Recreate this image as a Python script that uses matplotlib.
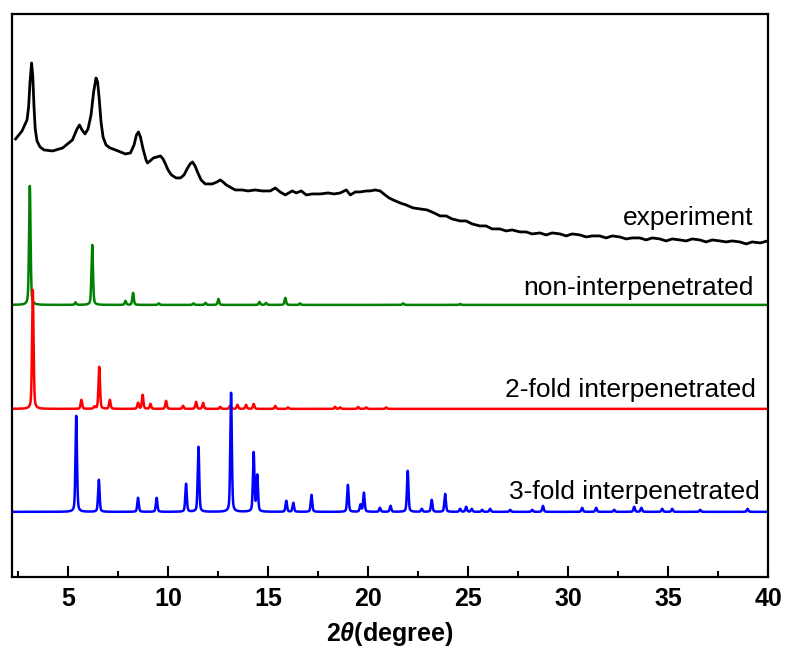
import numpy as np
import matplotlib
matplotlib.use('Agg')
import matplotlib.pyplot as plt

plt.rcParams['font.family'] = ['Liberation Sans', 'DejaVu Sans']
plt.rcParams['mathtext.fontset'] = 'custom'
plt.rcParams['mathtext.it'] = 'Liberation Sans:italic:bold'
plt.rcParams['mathtext.rm'] = 'Liberation Sans:bold'

# experimental pattern (2theta, intensity a.u.)
exp_x = [2.38, 2.7, 2.95, 3.03, 3.1, 3.18, 3.24, 3.3, 3.36, 3.45, 3.6, 3.8, 4.23,
         4.73, 5.22, 5.45, 5.57, 5.7, 5.85, 6.0, 6.15, 6.28, 6.4, 6.48, 6.56, 6.65,
         6.75, 6.9, 7.1, 7.37, 7.87, 8.12, 8.3, 8.42, 8.52, 8.62, 8.75, 8.9, 8.97,
         9.1, 9.27, 9.45, 9.62, 9.75, 9.87, 10.0, 10.17, 10.4, 10.62, 10.8, 10.95,
         11.1, 11.22, 11.35, 11.47, 11.65, 11.86, 12.21, 12.45, 12.61, 12.75,
         12.91, 13.36, 13.7, 14.0, 14.36, 14.7, 15.11, 15.36, 15.6, 15.86, 16.21,
         16.41, 16.66, 16.91, 17.2, 17.61, 18.0, 18.3, 18.61, 18.91, 19.11, 19.36,
         19.6, 19.91, 20.1, 20.35, 20.6, 20.85, 21.05, 21.25, 21.6, 21.9, 22.25,
         22.6, 22.95, 23.3, 23.6, 23.9, 24.2, 24.6, 24.9, 25.2, 25.59, 25.9, 26.2,
         26.59, 26.9, 27.2, 27.59, 27.9, 28.2, 28.59, 28.9, 29.2, 29.59, 29.9, 30.2,
         30.59, 30.9, 31.2, 31.58, 31.9, 32.2, 32.58, 32.9, 33.2, 33.58, 33.9, 34.2,
         34.58, 34.9, 35.2, 35.58, 35.9, 36.2, 36.58, 36.9, 37.2, 37.58, 37.9, 38.2,
         38.58, 38.9, 39.2, 39.6, 39.97]
exp_y = [438, 446, 457, 470, 495, 514, 500, 470, 448, 436, 430, 427, 426,
         429, 437, 448, 452, 447, 443, 448, 462, 485, 499, 495, 478, 455,
         440, 432, 429, 427, 423, 424, 432, 442, 445, 440, 428, 417, 414,
         416, 419, 420, 421, 418, 413, 407, 402, 399, 399, 402, 408,
         413, 415, 411, 405, 397, 393, 393, 395, 397, 395,
         392, 387, 387, 386, 387, 386, 386, 389, 385, 382, 386,
         384, 386, 382, 383, 383, 384, 383, 384, 387, 382, 385,
         385, 386, 386, 387, 386, 382, 379, 377, 374, 372, 369,
         368, 367, 364, 361, 361, 358, 356, 356, 353, 351, 351, 348,
         348, 346, 347, 345, 345, 343, 344, 342, 344, 343, 341, 343,
         342, 340, 341, 341, 339, 341, 340, 338, 339, 339, 337, 339,
         338, 336, 338, 337, 336, 338, 337, 335, 337, 336, 335, 336,
         335, 333, 335, 334, 336]

# simulated patterns: peak positions and heights
non_pos = [3.09, 5.37, 6.21, 7.87, 8.25, 9.53, 11.27, 11.87, 12.52, 14.57, 14.9,
           15.86, 16.6, 21.75, 24.6]
non_hts = [119, 2.5, 60, 4, 12, 1.5, 1.5, 2, 6, 3, 2, 7, 1.5, 1.5, 1]
non_base = 272

two_pos = [3.24, 5.67, 6.32, 6.56, 7.09, 8.5, 8.73, 9.12, 9.9, 10.75, 11.4, 11.75,
           12.61, 13.1, 13.47, 13.9, 14.28, 15.36, 16.0, 18.35, 18.6, 19.5, 19.9, 20.9]
two_hts = [119, 9, 2, 42, 9, 6, 14, 5, 8, 3, 7, 6,
           2, 3, 4, 4, 5, 3, 1.5, 2, 1.5, 2, 1.5, 1.5]
two_base = 168

three_pos = [5.41, 6.54, 8.5, 9.43, 10.9, 11.52, 13.15, 14.28, 14.46, 15.91, 16.26,
             17.17, 18.99, 19.62, 19.79, 20.59, 21.12, 21.98, 22.68, 23.18, 23.85,
             24.6, 24.9, 25.18, 25.7, 26.1, 27.1, 28.2, 28.74, 30.7, 31.4, 32.3,
             33.3, 33.66, 34.7, 35.2, 36.6, 38.97]
three_hts = [96, 32, 14, 14, 28, 65, 119, 59, 36, 11, 9,
             17, 27, 7, 19, 4, 6, 41, 3, 12, 18,
             3, 5, 3, 2, 3, 2, 2, 6, 4, 4, 2,
             5, 4, 3, 3, 2, 3]
three_base = 65

labels = ['experiment', 'non-interpenetrated', '2-fold interpenetrated', '3-fold interpenetrated']


def profile(x, pos, hts, base, fwhm=0.09, eta=0.4):
    y = np.full_like(x, float(base))
    hw = fwhm / 2
    for p, h in zip(pos, hts):
        g = np.exp(-np.log(2) * ((x - p) / hw) ** 2)
        l = 1 / (1 + ((x - p) / hw) ** 2)
        y += h * ((1 - eta) * g + eta * l)
    return y


tt = np.arange(2.2, 40.0, 0.005)

fig = plt.figure(figsize=(7.85, 6.54), dpi=100)
ax = fig.add_axes([0.0153, 0.118, 0.9633, 0.8606])

ax.plot(exp_x, exp_y, color='black', lw=2, solid_joinstyle='round')
ax.plot(tt, profile(tt, non_pos, non_hts, non_base), color='#008000', lw=1.8)
ax.plot(tt, profile(tt, two_pos, two_hts, two_base), color='#ff0000', lw=1.8)
ax.plot(tt, profile(tt, three_pos, three_hts, three_base), color='#0000ff', lw=1.8)

# curve labels
txt_kw = dict(ha='right', va='center', fontsize=19)
ax.text(39.25, 359, labels[0], **txt_kw)
ax.text(39.25, 289, labels[1], **txt_kw)
ax.text(39.4, 187, labels[2], **txt_kw)
ax.text(39.6, 85, labels[3], **txt_kw)

ax.set_xlim(2.2, 40)
ax.set_ylim(0, 563)
ax.set_xticks(np.arange(5, 41, 5))
ax.set_xticks(np.arange(2.5, 40, 5), minor=True)
ax.set_yticks([])
ax.tick_params(axis='x', which='major', direction='in', length=8, width=1.5,
               labelsize=18, pad=7)
ax.tick_params(axis='x', which='minor', direction='in', length=4, width=1.5)
for lab in ax.get_xticklabels():
    lab.set_fontweight('bold')
for s in ax.spines.values():
    s.set_linewidth(1.6)

ax.set_xlabel(r'2$\theta$(degree)', fontsize=18, fontweight='bold', labelpad=7)

fig.savefig('out.png', dpi=100)
